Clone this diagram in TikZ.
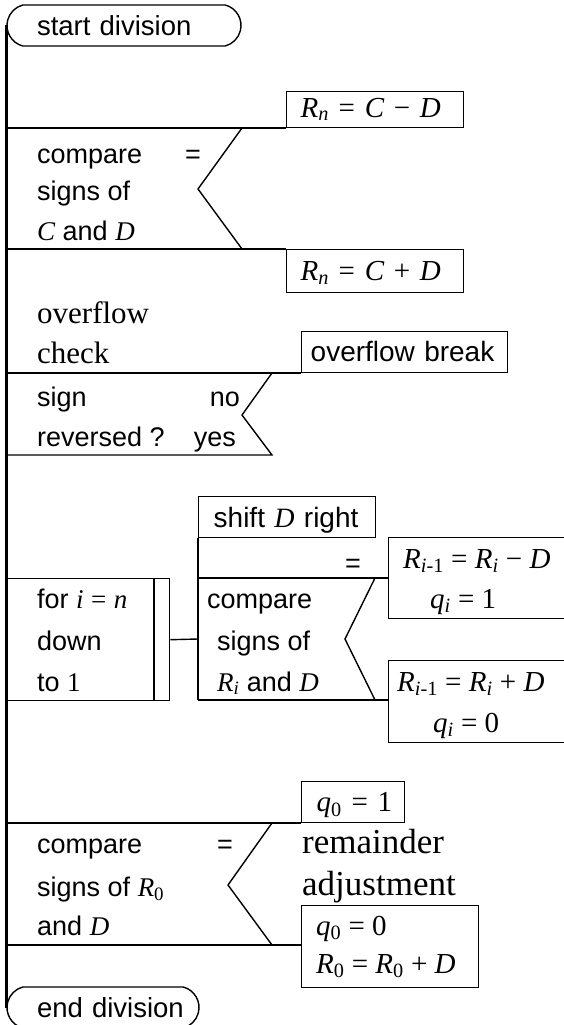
\documentclass[tikz,border=0pt]{standalone}
\usepackage{fontspec}
\setmainfont{Liberation Sans}
\newfontfamily\tms{Liberation Serif}
\usetikzlibrary{shapes.misc}
\newcommand\mv[1]{{\tms\itshape #1}}
\newcommand\mr[1]{{\tms #1}}
\begin{document}
\begin{tikzpicture}[x=1pt,y=-1pt,
  ln/.style={line width=1.4pt},
  thickln/.style={line width=3.2pt},
  txt/.style={font=\fontsize{27}{32}\selectfont, inner sep=0pt, anchor=base west},
  txte/.style={font=\fontsize{27}{32}\selectfont, inner sep=0pt, anchor=base east},
  mth/.style={font=\tms\fontsize{29}{34}\selectfont, inner sep=0pt, anchor=base west},
  serA/.style={font=\tms\fontsize{31}{36}\selectfont, inner sep=0pt, anchor=base west},
  serB/.style={font=\tms\fontsize{35}{40}\selectfont, inner sep=0pt, anchor=base west},
  term/.style={draw, line width=1.4pt, rounded rectangle, rounded rectangle arc length=150,
    minimum height=41pt, inner xsep=0pt, inner ysep=0pt, align=left,
    font=\fontsize{27.5}{32}\selectfont},
  box/.style={draw, line width=1.4pt, rectangle, inner ysep=0pt, align=left},
  btxt/.style={font=\fontsize{28}{33}\selectfont},
  bmth/.style={font=\tms\fontsize{29}{34}\selectfont}
]
\useasboundingbox (0,0) rectangle (563,1025);

% terminals
\node[term, minimum width=234pt, text width=174pt] (start) at (124,25.5) {\mbox{start division}};
\node[term, minimum width=192pt, text width=132pt] (end) at (103,1007.5) {\mbox{end division}};
\draw[thickln] (start.west) -- (end.west);

% ---- decision 1: compare signs of C and D
\node[box, bmth, anchor=south west, minimum width=177pt, minimum height=36pt,
  inner xsep=14pt, text width=149pt] (b1) at (286,128)
  {\mbox{\mv{R}\textsubscript{\mv{n}} = \mv{C} − \mv{D}}};
\node[box, bmth, anchor=north west, minimum width=177pt, minimum height=43pt,
  inner xsep=14pt, text width=149pt, text depth=0pt] (b2) at (286,249)
  {\mbox{\mv{R}\textsubscript{\mv{n}} = \mv{C} + \mv{D}}};
\coordinate (d1a) at (7,128);
\coordinate (d1b) at (242,128);
\coordinate (d1c) at (198,189);
\coordinate (d1d) at (242,249);
\coordinate (d1e) at (7,249);
\draw[ln] (d1a) -- (b1.south west);
\draw[ln] (d1b) -- (d1c) -- (d1d);
\draw[ln] (d1e) -- (b2.north west);
\node[txt] (t1a) at (37,163) {compare};
\node[txt] (t1eq) at (185,163) {=};
\node[txt] (t1b) at (37,200) {signs of};
\node[txt] (t1c) at (37,240) {\mv{C} and \mv{D}};

% ---- decision 2: overflow check
\node[serA] (ov1) at (37,323) {overflow};
\node[serA] (ov2) at (37,363) {check};
\node[box, btxt, anchor=south west, minimum width=206pt, minimum height=41pt,
  inner xsep=9pt, text width=188pt, text depth=0pt] (ob) at (301,373) {\mbox{overflow break}};
\coordinate (d2a) at (7,373);
\coordinate (d2b) at (272,373);
\coordinate (d2c) at (242,415);
\coordinate (d2d) at (272,455);
\coordinate (d2e) at (7,455);
\draw[ln] (d2a) -- (ob.south west);
\draw[ln] (d2b) -- (d2c) -- (d2d) -- (d2e);
\node[txt] (t2a) at (37,406) {sign};
\node[txte] (t2no) at (240,406) {no};
\node[txt] (t2b) at (37,446) {reversed ?};
\node[txte] (t2yes) at (236,446) {yes};

% ---- loop
\node[box, anchor=north west, minimum width=162pt, minimum height=122pt, inner sep=0pt] (loop) at (7,578) {};
\coordinate (li1) at (154,578);
\coordinate (li2) at (154,700);
\draw[ln] (li1) -- (li2);
\node[txt] (t3a) at (37,608) {for \mv{i} \mr{=} \mv{n}};
\node[txt] (t3b) at (37,650) {down};
\node[txt] (t3c) at (37,691) {to \mr{1}};

\node[box, btxt, anchor=north west, minimum width=177pt, minimum height=41pt,
  inner xsep=15pt, text width=147pt, text depth=0pt] (sh) at (198,496) {\mbox{shift \mv{D} right}};
\coordinate (c1) at (198,578);
\coordinate (c2) at (198,700);
\coordinate (cin) at (198,639);
\node[box, anchor=north west, minimum width=212pt, minimum height=81pt, inner sep=0pt] (ri1) at (388,537) {};
\node[box, anchor=north west, minimum width=212pt, minimum height=82pt, inner sep=0pt] (ri0) at (388,660) {};
\coordinate (e1) at (375,578);
\coordinate (e2) at (345,639);
\coordinate (e3) at (375,700);
\draw[ln] (sh.south west) -- (c2);
\draw[ln] (c1) -- (c1 -| ri1.west);
\draw[ln] (c2) -- (c2 -| ri0.west);
\draw[ln] (e1) -- (e2) -- (e3);
\draw[ln] (loop.east) -- (cin);
\node[txt] (t4eq) at (345,572) {=};
\node[txt] (t4a) at (207,608) {compare};
\node[txt] (t4b) at (217,650) {signs of};
\node[txt] (t4c) at (217,691) {\mv{R}\textsubscript{\mv{i}} and \mv{D}};
\node[mth] (r1a) at (403,568) {\mv{R}\textsubscript{\mv{i}-1} = \mv{R}\textsubscript{\mv{i}} − \mv{D}};
\node[mth] (r1b) at (430,608) {\mv{q}\textsubscript{\mv{i}} = 1};
\node[mth] (r0a) at (397,691) {\mv{R}\textsubscript{\mv{i}-1} = \mv{R}\textsubscript{\mv{i}} + \mv{D}};
\node[mth] (r0b) at (433,732) {\mv{q}\textsubscript{\mv{i}} = 0};

% ---- decision 3: remainder adjustment
\node[box, bmth, anchor=south west, minimum width=103pt, minimum height=41pt,
  inner xsep=15pt, text width=73pt, text depth=0pt] (q1) at (301,823)
  {\mbox{\mv{q}\textsubscript{0} = 1}};
\node[box, anchor=north west, minimum width=177pt, minimum height=82pt, inner sep=0pt] (q0) at (301,905) {};
\coordinate (d3a) at (7,823);
\coordinate (d3b) at (272,823);
\coordinate (d3c) at (228,885);
\coordinate (d3d) at (272,945);
\coordinate (d3e) at (7,945);
\draw[ln] (d3a) -- (q1.south west);
\draw[ln] (d3b) -- (d3c) -- (d3d);
\draw[ln] (d3e) -- (d3e -| q0.west);
\node[serB] (ra) at (302,853) {remainder};
\node[serB] (rb) at (302,895) {adjustment};
\node[txt] (t5a) at (37,853) {compare};
\node[txt] (t5eq) at (217,853) {=};
\node[txt] (t5b) at (37,896) {signs of \mv{R}\textsubscript{\mr{0}}};
\node[txt] (t5c) at (37,935) {and \mv{D}};
\node[mth] (q0a) at (316,935) {\mv{q}\textsubscript{0} = 0};
\node[mth] (q0b) at (316,973) {\mv{R}\textsubscript{0} = \mv{R}\textsubscript{0} + \mv{D}};
\end{tikzpicture}
\end{document}
